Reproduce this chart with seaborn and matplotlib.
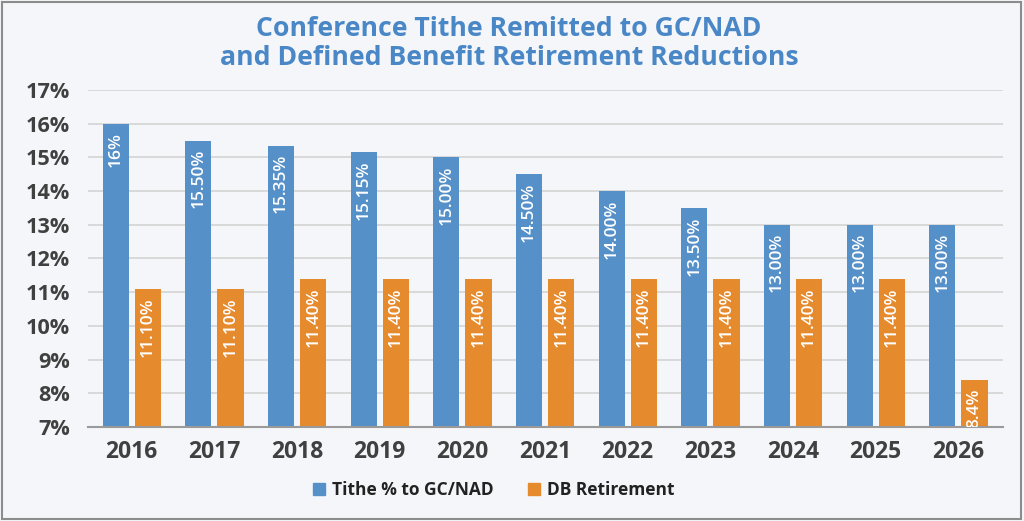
"""
Conference tithe remitted vs DB retirement reductions
"""
import pandas as pd
import matplotlib.pyplot as plt
import matplotlib.patches as mpatches
import seaborn as sns

# data
years = ['2016', '2017', '2018', '2019', '2020', '2021', '2022', '2023', '2024', '2025', '2026']
tithe = [16.0, 15.5, 15.35, 15.15, 15.0, 14.5, 14.0, 13.5, 13.0, 13.0, 13.0]
db_retirement = [11.1, 11.1, 11.4, 11.4, 11.4, 11.4, 11.4, 11.4, 11.4, 11.4, 8.4]
tithe_labels = ['16%', '15.50%', '15.35%', '15.15%', '15.00%', '14.50%', '14.00%',
                '13.50%', '13.00%', '13.00%', '13.00%']
db_labels = ['11.10%', '11.10%', '11.40%', '11.40%', '11.40%', '11.40%', '11.40%',
             '11.40%', '11.40%', '11.40%', '8.4%']
series_names = ['Tithe % to GC/NAD', 'DB Retirement']
y_ticks = [7, 8, 9, 10, 11, 12, 13, 14, 15, 16, 17]

BLUE = '#5690c8'
ORANGE = '#e68a2e'
BG = '#f5f6fa'
TEXT = '#404040'

sns.set_theme(style='white')
plt.rcParams['font.family'] = ['Open Sans', 'DejaVu Sans']

df = pd.DataFrame({
    'Year': years * 2,
    'Value': tithe + db_retirement,
    'Series': [series_names[0]] * len(years) + [series_names[1]] * len(years),
})

fig = plt.figure(figsize=(10.24, 5.21), dpi=100, facecolor=BG)
ax = fig.add_axes([0.0859, 0.1804, 0.8936, 0.6469])
ax.set_facecolor(BG)

sns.barplot(data=df, x='Year', y='Value', hue='Series', hue_order=series_names,
            palette=[BLUE, ORANGE], width=0.78, gap=0.19, saturation=1,
            edgecolor='none', ax=ax, legend=False)

ax.set_ylim(7, 17)
ax.set_xlim(-0.53, 10.54)
ax.set_yticks(y_ticks)
ax.set_yticklabels([f'{t}%' for t in y_ticks])
ax.set_xlabel('')
ax.set_ylabel('')
ax.yaxis.grid(True, color='#d6d6d6', linewidth=1.3)
ax.set_axisbelow(True)
for side in ['left', 'right', 'top']:
    ax.spines[side].set_visible(False)
ax.spines['bottom'].set_color('#9a9a9a')
ax.spines['bottom'].set_linewidth(1.5)
ax.tick_params(axis='y', length=0, pad=13, labelsize=15.6, labelcolor=TEXT)
ax.tick_params(axis='x', length=0, pad=9, labelsize=16.5, labelcolor=TEXT)
for lbl in ax.get_xticklabels() + ax.get_yticklabels():
    lbl.set_fontweight('bold')

# value labels inside the top of each bar
for container, labels in zip(ax.containers, [tithe_labels, db_labels]):
    for bar, text in zip(container, labels):
        x = bar.get_x() + bar.get_width() / 2
        ax.annotate(text, (x, bar.get_height()), xytext=(0, -6),
                    textcoords='offset points', rotation=90, ha='center', va='top',
                    color='white', fontsize=12.5, fontweight='semibold',
                    annotation_clip=False, clip_on=True)

fig.text(0.497, 0.931, 'Conference Tithe Remitted to GC/NAD', ha='center', va='baseline',
         fontsize=19.2, fontweight='bold', color='#4a87c6')
fig.text(0.497, 0.875, 'and Defined Benefit Retirement Reductions', ha='center', va='baseline',
         fontsize=19.2, fontweight='bold', color='#4a87c6')

handles = [mpatches.Patch(color=BLUE, label=series_names[0]),
           mpatches.Patch(color=ORANGE, label=series_names[1])]
leg = fig.legend(handles=handles, loc='center', bbox_to_anchor=(0.482, 0.06), ncol=2,
                 frameon=False, handlelength=0.7, handleheight=0.7, handletextpad=0.4,
                 columnspacing=2.0, prop={'weight': 'bold', 'size': 12.5})
for t in leg.get_texts():
    t.set_color('#222222')

# thin frame around the whole graphic
fig.patches.append(mpatches.Rectangle((0.002, 0.004), 0.995, 0.993, transform=fig.transFigure,
                                      fill=False, edgecolor='#8c8c8c', linewidth=1.5))

fig.savefig('out.png', dpi=100, facecolor=BG)
